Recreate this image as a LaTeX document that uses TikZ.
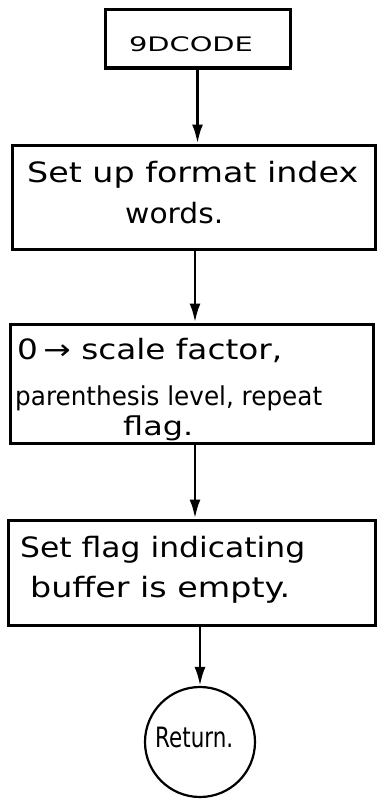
\documentclass[tikz,border=0pt]{standalone}
\usepackage{fontspec}
\setmainfont{DejaVu Sans}
\usetikzlibrary{arrows.meta}
% set #2 horizontally scaled to the width #1
\newcommand\fitw[2]{\sbox0{#2}\scalebox{\fpeval{#1/\wd0}}[1]{\usebox0}}
\begin{document}
\begin{tikzpicture}[x=1pt,y=-1pt,
  box/.style={draw,line width=3pt,rectangle,inner sep=0pt},
  term/.style={draw,line width=2.2pt,circle,inner sep=0pt,minimum size=110pt},
  flow/.style={line width=2.8pt,-{Latex[length=19pt,width=11pt]}},
  txt/.style={anchor=base west,inner sep=0pt,font=\fontsize{28}{32}\selectfont},
  smalltxt/.style={txt,font=\fontsize{26}{30}\selectfont},
  headtxt/.style={anchor=base,inner sep=0pt,font=\fontsize{20}{24}\selectfont}]
\useasboundingbox (0,0) rectangle (382,800);
% process boxes
\node[box,minimum width=185pt,minimum height=58pt] (b1) at (197.5,39) {};
\node[box,minimum width=363pt,minimum height=104pt] (b2) at (193.5,197) {};
\node[box,minimum width=363pt,minimum height=119pt] (b3) at (191.5,383.5) {};
\node[box,minimum width=367pt,minimum height=105pt] (b4) at (191.5,572.5) {};
\node[term] (ret) at (200,742) {};
% box texts
\node[headtxt] (t1) at (191,52) {\fitw{124pt}{9DCODE}};
\node[txt] (t2a) at (27,182) {\fitw{331pt}{Set up format index}};
\node[txt] (t2b) at (125,223) {\fitw{98pt}{words.}};
\node[txt] (t3a) at (17,359) {\fitw{265pt}{0\,→ scale factor,}};
\node[smalltxt] (t3b) at (15,405) {\fitw{307pt}{parenthesis level, repeat}};
\node[smalltxt] (t3c) at (123,435) {\fitw{70pt}{flag.}};
\node[txt] (t4a) at (20,557) {\fitw{285pt}{Set flag indicating}};
\node[txt] (t4b) at (30,597) {\fitw{260pt}{buffer is empty.}};
\node[txt] (t5) at (155,747) {\fitw{78pt}{Return.}};
% connectors
\draw[flow] (b1.south) -- (b1.south |- b2.north);
\draw[flow] ([xshift=1.5pt]b2.south) -- ([xshift=1.5pt]b2.south |- b3.north);
\draw[flow] ([xshift=3.5pt]b3.south) -- ([xshift=3.5pt]b3.south |- b4.north);
\draw[flow] (ret.north |- b4.south) -- (ret.north);
\end{tikzpicture}
\end{document}
